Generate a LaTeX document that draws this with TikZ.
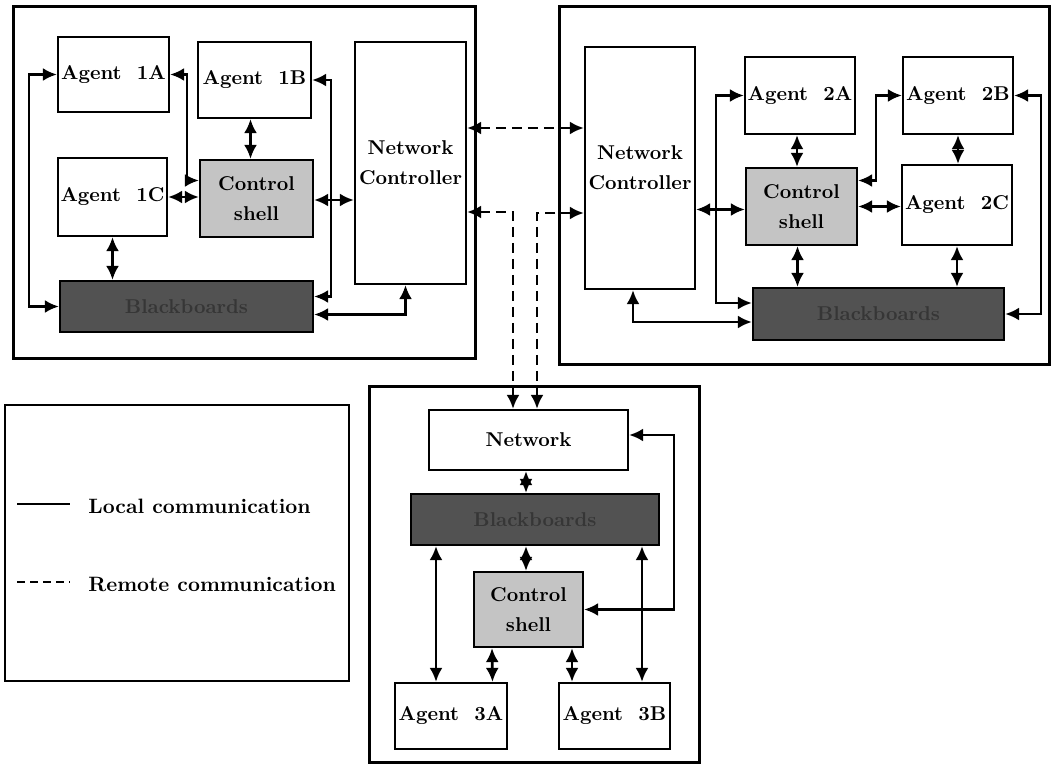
\documentclass[tikz,border=0pt]{standalone}
\usetikzlibrary{arrows.meta,calc}
\definecolor{shellgray}{HTML}{C4C4C4}
\definecolor{bbgray}{HTML}{525252}
\definecolor{bbtext}{HTML}{363636}
\tikzset{
  outer/.style={draw, line width=1.5pt},
  box/.style={draw, line width=1.1pt, fill=white, inner sep=0pt, align=center, font=\bfseries\fontsize{10}{15}\selectfont},
  shellbox/.style={box, fill=shellgray},
  bbbox/.style={box, fill=bbgray, text=bbtext},
  dar/.style={line width=1.35pt, {Latex[length=7pt,width=6.5pt]}-{Latex[length=7pt,width=6.5pt]}},
  ddar/.style={dar, dashed, dash pattern=on 5pt off 3pt},
  legtext/.style={anchor=west, inner sep=0pt, font=\bfseries\fontsize{10.4}{12}\selectfont}
}
\begin{document}
\begin{tikzpicture}[x=0.5pt,y=-0.5pt]
\useasboundingbox (0,0) rectangle (1055,765);
% outer module frames
\draw[outer] (13,7) rectangle (475,358);
\draw[outer] (559,7) rectangle (1049,364);
\draw[outer] (369,386) rectangle (699,762);
% legend
\draw[line width=1pt] (5,405) rectangle (349,681);
\coordinate (l1a) at (17,504); \coordinate (l1b) at (70,504);
\coordinate (l2a) at (17,582); \coordinate (l2b) at (70,582);
\draw[line width=1.3pt] (l1a) -- (l1b);
\draw[line width=1.3pt, dash pattern=on 4pt off 2.5pt] (l2a) -- (l2b);
\node[legtext] (lt1) at (88,506) {Local communication};
\node[legtext] (lt2) at (88,584) {Remote communication};

% ---- module 1
\node[box, minimum width=55.5pt, minimum height=121pt] (NC1) at (410.5,163) {Network\\Controller};
\node[box, minimum width=55.5pt, minimum height=37.5pt] (A1A) at (113.5,74.5) {Agent\ \ 1A};
\node[box, minimum width=56.5pt, minimum height=38pt] (A1B) at (254.5,80) {Agent\ \ 1B};
\node[box, minimum width=54.5pt, minimum height=39pt] (A1C) at (112.5,197) {Agent\ \ 1C};
\node[shellbox, minimum width=56.5pt, minimum height=38.5pt] (CS1) at (256.5,198.5) {Control\\shell};
\node[bbbox, minimum width=126.5pt, minimum height=25.5pt] (BB1) at (186.5,306.5) {Blackboards};

% ---- module 2
\node[box, minimum width=55pt, minimum height=121pt] (NC2) at (640,168) {Network\\Controller};
\node[box, minimum width=55pt, minimum height=38.5pt] (A2A) at (800,95.5) {Agent\ \ 2A};
\node[box, minimum width=55pt, minimum height=38.5pt] (A2B) at (958,95.5) {Agent\ \ 2B};
\node[shellbox, minimum width=55.5pt, minimum height=38.5pt] (CS2) at (801.5,206.5) {Control\\shell};
\node[box, minimum width=55pt, minimum height=40pt] (A2C) at (957,205) {Agent\ \ 2C};
\node[bbbox, minimum width=125.5pt, minimum height=26pt] (BB2) at (878.5,314) {Blackboards};

% ---- module 3
\node[box, minimum width=99.5pt, minimum height=30pt] (N3) at (528.5,440) {Network};
\node[bbbox, minimum width=124pt, minimum height=25.5pt] (BB3) at (535,519.5) {Blackboards};
\node[shellbox, minimum width=54.5pt, minimum height=37.5pt] (CS3) at (528.5,609.5) {Control\\shell};
\node[box, minimum width=56pt, minimum height=33pt] (A3A) at (451,716) {Agent\ \ 3A};
\node[box, minimum width=55.5pt, minimum height=33pt] (A3B) at (614.5,716) {Agent\ \ 3B};

% ---- connectors module 1
\draw[dar] (A1A.west) -- ++(-28,0) |- (BB1.west);
\draw[dar] (A1A.east) -| ($(CS1.west)+(-12,-18)$) -- ($(CS1.west)+(0,-18)$);
\draw[dar] ($(A1B.south)+(-4,0)$) -- ($(A1B.south |- CS1.north)+(-4,0)$);
\draw[dar] (A1C.east) -- (A1C.east -| CS1.west);
\draw[dar] ($(CS1.east)+(0,1.5)$) -- ($(CS1.east -| NC1.west)+(0,1.5)$);
\draw[dar] (A1B.east) -- ++(19,0) |- ($(BB1.east)+(0,-10)$);
\draw[dar] (A1C.south) -- (A1C.south |- BB1.north);
\draw[dar] ($(BB1.east)+(0,8)$) -| ($(NC1.south)+(-5,0)$);

% ---- connectors module 2
\draw[dar] ($(CS2.west -| NC2.east)+(0,3)$) -- ($(CS2.west)+(0,3)$);
\draw[dar] (A2A.west) -- ++(-28,0) |- ($(BB2.west)+(0,-11)$);
\draw[dar] ($(A2A.south)+(-3,0)$) -- ($(A2A.south |- CS2.north)+(-3,0)$);
\draw[dar] ($(CS2.east)+(0,-26)$) -| ($(A2B.west)+(-26,0)$) -- (A2B.west);
\draw[dar] (CS2.east) -- (CS2.east -| A2C.west);
\draw[dar] (A2B.south) -- (A2B.south |- A2C.north);
\draw[dar] (A2B.east) -- ++(27,0) |- (BB2.east);
\draw[dar] (A2C.south) -- (A2C.south |- BB2.north);
\draw[dar] ($(CS2.south)+(-4,0)$) -- ($(CS2.south |- BB2.north)+(-4,0)$);
\draw[dar] ($(NC2.south)+(-7,0)$) |- ($(BB2.west)+(0,8)$);

% ---- connectors module 3
\draw[dar] ($(N3.south)+(-2.5,0)$) -- ($(N3.south |- BB3.north)+(-2.5,0)$);
\draw[dar] ($(BB3.south)+(-9,0)$) -- ($(CS3.north)+(-2.5,0)$);
\draw[dar] ($(BB3.south)+(-99,0)$) -- ($(A3A.north)+(-15,0)$);
\draw[dar] ($(BB3.south)+(107,0)$) -- ($(A3B.north)+(27.5,0)$);
\draw[dar] ($(CS3.south)+(-36.5,0)$) -- ($(A3A.north)+(41.5,0)$);
\draw[dar] ($(CS3.south)+(43.5,0)$) -- ($(A3B.north)+(-42.5,0)$);
\draw[dar] ($(N3.east)+(0,-5)$) -- ++(45,0) |- (CS3.east);

% ---- remote (dashed) connectors
\draw[ddar] ($(NC1.east)+(0,-35)$) -- ($(NC2.west)+(0,-40)$);
\draw[ddar] ($(NC1.east)+(0,49)$) -| ($(N3.north)+(-15.5,0)$);
\draw[ddar] ($(NC2.west)+(0,45)$) -| ($(N3.north)+(8.5,0)$);
\end{tikzpicture}
\end{document}
